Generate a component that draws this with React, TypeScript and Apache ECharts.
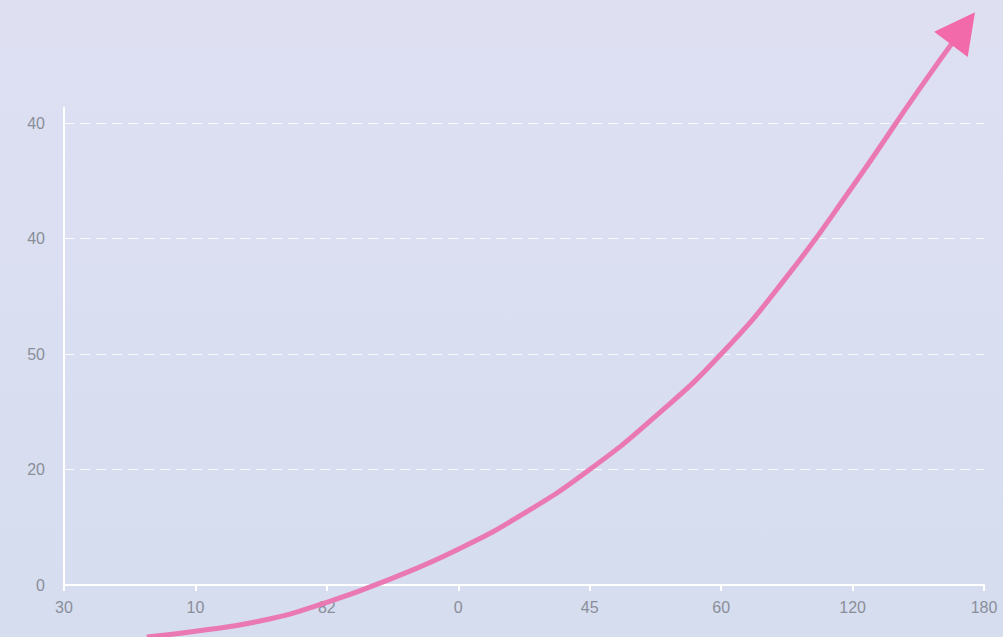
import React, { useEffect, useRef } from "react";
import * as echarts from "echarts";

const xTickLabels = ["30", "10", "82", "0", "45", "60", "120", "180"];
const yTickLabels = ["0", "20", "50", "40", "40"];

// curve sample points (x in tick index units, y in gridline units)
const curveX = [0.63, 1.0, 1.5, 2.0, 2.5, 3.0, 3.5, 4.0, 4.5, 5.0, 5.5, 6.0, 6.5];
const curveY = [-0.45, -0.4, -0.31, -0.15, 0.06, 0.31, 0.62, 1.0, 1.46, 2.0, 2.67, 3.45, 4.28];
const arrowPoint = [6.84, 4.82];

export default function App() {
  const ref = useRef<HTMLDivElement>(null);
  useEffect(() => {
    if (!ref.current) return;
    const chart = echarts.init(ref.current, undefined, { renderer: "svg" });
    const data: any[] = curveX.map((x, i) => [x, curveY[i]]);
    data.push({
      value: arrowPoint,
      symbol: "triangle",
      symbolSize: [42, 40],
      symbolRotate: -37,
      itemStyle: { color: "#f26aa9" },
    });
    chart.setOption({
      animation: false,
      backgroundColor: {
        type: "linear",
        x: 0, y: 0, x2: 0, y2: 1,
        colorStops: [
          { offset: 0, color: "#dee0f2" },
          { offset: 1, color: "#d5ddef" },
        ],
      },
      grid: { left: 64, right: 19, top: 108, bottom: 52 },
      xAxis: {
        type: "value",
        min: 0,
        max: 7,
        interval: 1,
        axisLine: { show: true, lineStyle: { color: "#ffffff", width: 2 } },
        axisTick: { show: true, length: 6, lineStyle: { color: "#ffffff", width: 2 } },
        splitLine: { show: false },
        axisLabel: {
          margin: 14,
          color: "#8a8e99",
          fontSize: 16,
          fontFamily: "Liberation Sans, Arial, sans-serif",
          formatter: (v: number) => xTickLabels[Math.round(v)] ?? "",
        },
      },
      yAxis: {
        type: "value",
        min: 0,
        max: 4.13,
        interval: 1,
        axisLine: { show: true, lineStyle: { color: "#ffffff", width: 2 } },
        axisTick: { show: false },
        splitLine: {
          show: true,
          showMinLine: false,
          showMaxLine: false,
          lineStyle: { color: "rgba(255,255,255,0.85)", type: [10, 6], width: 1 },
        },
        axisLabel: {
          margin: 19,
          color: "#8a8e99",
          fontSize: 16,
          fontFamily: "Liberation Sans, Arial, sans-serif",
          showMaxLabel: false,
          formatter: (v: number) =>
            Math.abs(v - Math.round(v)) < 1e-6 ? yTickLabels[Math.round(v)] ?? "" : "",
        },
      },
      series: [
        {
          type: "line",
          data,
          smooth: 0.5,
          clip: false,
          symbol: "none",
          lineStyle: { color: "#ea78b2", width: 5 },
          itemStyle: { color: "#f26aa9" },
          z: 5,
        },
      ],
    });
    return () => chart.dispose();
  }, []);
  return (
    <div
      ref={ref}
      style={{ position: "fixed", left: 0, top: 0, width: 1003, height: 637 }}
    />
  );
}
